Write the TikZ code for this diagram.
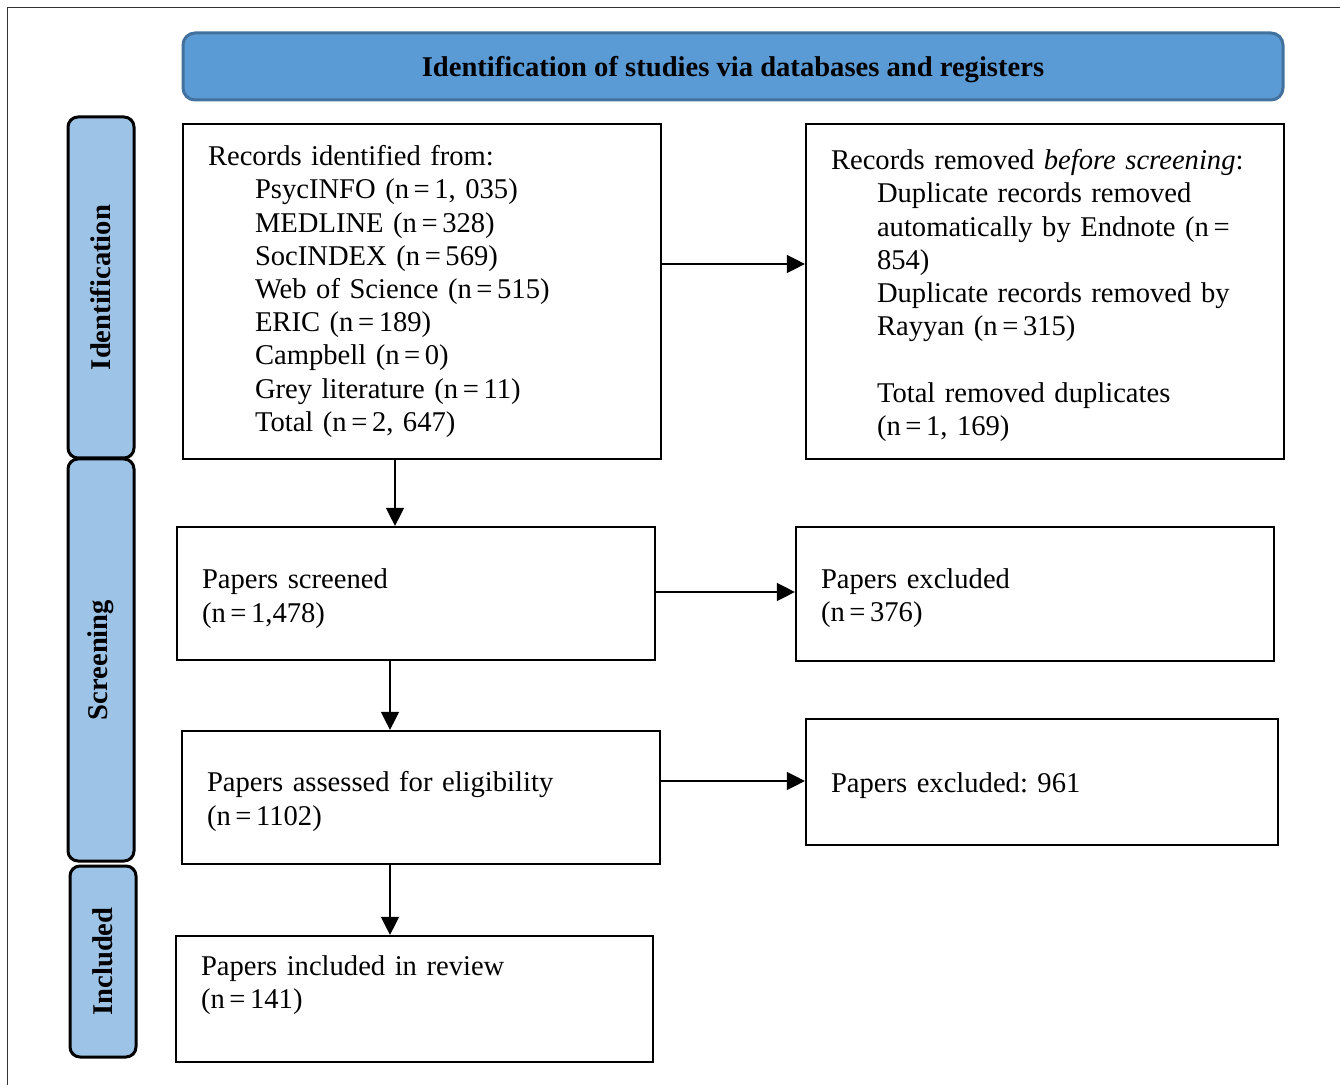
\documentclass[tikz,border=0pt]{standalone}
\usepackage{fontspec}
\setmainfont{Liberation Serif}
\frenchspacing
\usetikzlibrary{arrows.meta}
\definecolor{titlefill}{HTML}{5B9BD5}
\definecolor{titledraw}{HTML}{41719C}
\definecolor{sidefill}{HTML}{9DC3E6}
\definecolor{framecol}{HTML}{333333}
\newcommand{\toppad}[1]{\rule{0pt}{#1}}
\newcommand{\eqsp}{\kern0.16em=\kern0.16em}
\begin{document}
\begin{tikzpicture}[x=0.5pt,y=-0.5pt,
  every node/.style={font=\fontsize{14.3pt}{16.6pt}\selectfont\frenchspacing},
  titlebox/.style={draw=titledraw,fill=titlefill,line width=1.5pt,rounded corners=6pt,
    minimum width=550pt,minimum height=33.5pt,font=\fontsize{14.3pt}{16.6pt}\selectfont\bfseries},
  sidebox/.style={draw=black,fill=sidefill,line width=1.5pt,rounded corners=5pt,rotate=90,
    minimum height=33pt,font=\fontsize{14.3pt}{16.6pt}\selectfont\bfseries},
  flowbox/.style={draw=black,line width=1.1pt,align=left,inner xsep=12.5pt,inner ysep=2pt},
  arr/.style={draw=black,line width=0.7pt,-{Triangle[length=9pt,width=9pt]}}]
\useasboundingbox (0,0) rectangle (1340,1085);
\draw[framecol,line width=0.5pt] (7.5,1085) -- (7.5,7.5) -- (1340,7.5);

\node[titlebox] (title) at (733,66.5) {\toppad{13.5pt}Identification of studies via databases and registers};

\node[sidebox,minimum width=170.5pt] (sid) at (101,287.5) {Identification};
\node[sidebox,minimum width=201pt] (sscr) at (101,660) {Screening};
\node[sidebox,minimum width=95.5pt] (sinc) at (103,961.5) {Included};

\node[flowbox,minimum width=239pt,minimum height=167.5pt,text width=214pt] (b1) at (422,291.5)
{Records identified from:\\
\hspace*{23.5pt}PsycINFO (n\eqsp 1, 035)\\
\hspace*{23.5pt}MEDLINE (n\eqsp 328)\\
\hspace*{23.5pt}SocINDEX (n\eqsp 569)\\
\hspace*{23.5pt}Web of Science (n\eqsp 515)\\
\hspace*{23.5pt}ERIC (n\eqsp 189)\\
\hspace*{23.5pt}Campbell (n\eqsp 0)\\
\hspace*{23.5pt}Grey literature (n\eqsp 11)\\
\hspace*{23.5pt}Total (n\eqsp 2, 647)};

\node[flowbox,minimum width=239pt,minimum height=167.5pt,text width=214pt] (b2) at (1045,291.5)
{\toppad{14pt}Records removed \textit{before screening}:\\
\hspace*{23pt}Duplicate records removed\\
\hspace*{23pt}automatically by Endnote (n\eqsp\\
\hspace*{23pt}854)\\
\hspace*{23pt}Duplicate records removed by\\
\hspace*{23pt}Rayyan (n\eqsp 315)\\[16.6pt]
\hspace*{23pt}Total removed duplicates\\
\hspace*{23pt}(n\eqsp 1, 169)};

\node[flowbox,minimum width=239pt,minimum height=66.5pt,text width=214pt] (b3) at (416,593.5)
{\toppad{15pt}Papers screened\\(n\eqsp 1,478)};

\node[flowbox,minimum width=239pt,minimum height=67pt,text width=214pt] (b4) at (1035,594)
{\toppad{14pt}Papers excluded\\(n\eqsp 376)};

\node[flowbox,minimum width=239pt,minimum height=66.5pt,text width=214pt] (b5) at (421,797.5)
{\toppad{14pt}Papers assessed for eligibility\\(n\eqsp 1102)};

\node[flowbox,minimum width=236pt,minimum height=63pt,text width=211pt] (b6) at (1042,782)
{\toppad{14pt}Papers excluded: 961};

\node[flowbox,minimum width=238.5pt,minimum height=63pt,text width=213.5pt] (b7) at (414.5,999)
{Papers included in review\\(n\eqsp 141)\\\mbox{}};

\draw[arr] ([yshift=13.75pt]b1.east) -- ([yshift=13.75pt]b2.west);
\draw[arr] ([xshift=-13.5pt]b1.south) -- ([xshift=-13.5pt]b1.south |- b3.north);
\draw[arr] ([yshift=0.75pt]b3.east) -- ([yshift=0.75pt]b3.east -| b4.west);
\draw[arr] ([xshift=-13pt]b3.south) -- ([xshift=-13pt]b3.south |- b5.north);
\draw[arr] ([yshift=8.25pt]b5.east) -- ([yshift=8.25pt]b5.east -| b6.west);
\draw[arr] ([xshift=-15.5pt]b5.south) -- ([xshift=-15.5pt]b5.south |- b7.north);
\end{tikzpicture}
\end{document}
